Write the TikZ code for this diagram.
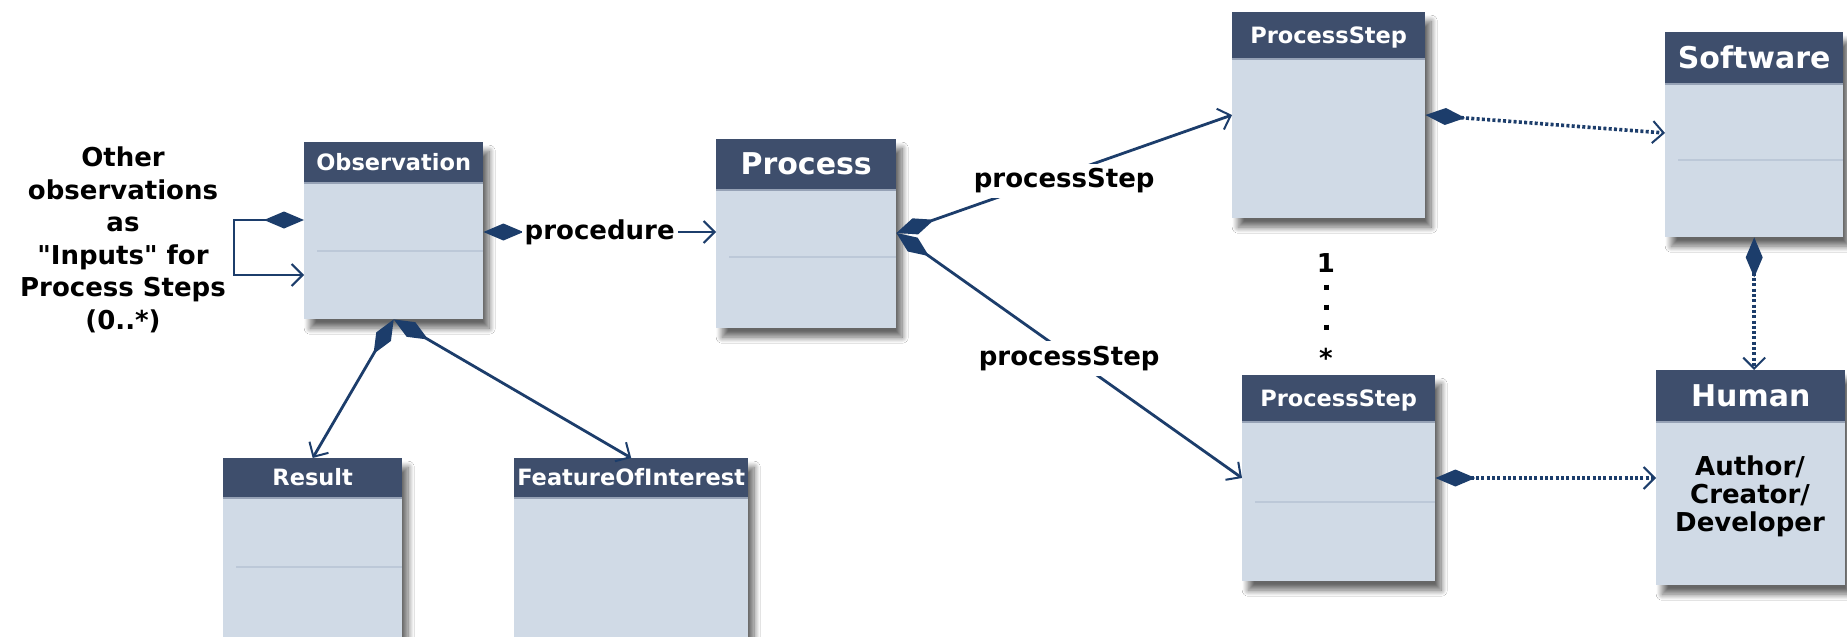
\documentclass[tikz,border=0pt]{standalone}
\usepackage{fontspec}
\setmainfont{DejaVu Sans}
\usetikzlibrary{arrows.meta,calc,shadows.blur}

\definecolor{hdr}{RGB}{62,78,108}
\definecolor{classbody}{RGB}{208,218,230}
\definecolor{sepline}{RGB}{188,200,216}
\definecolor{hdrline}{RGB}{150,162,182}
\definecolor{link}{RGB}{28,61,107}

% straight double quote, taken directly from the font
\newcommand{\dquote}{\XeTeXglyph\XeTeXglyphindex "quotedbl"\relax}

\tikzset{
  classbox/.style={rectangle, fill=classbody, inner sep=0pt, anchor=north west,
    blur shadow={shadow xshift=6pt, shadow yshift=-9pt, shadow blur radius=6pt,
      shadow blur steps=12, shadow opacity=60}},
  smalltitle/.style={text=white, inner sep=0pt, text height=16.4pt, text depth=0pt,
    font=\bfseries\fontsize{22.5}{24}\selectfont},
  bigtitle/.style={text=white, inner sep=0pt, text height=21.9pt, text depth=0pt,
    font=\bfseries\fontsize{30}{32}\selectfont},
  lbl/.style={font=\bfseries\fontsize{26}{32.5}\selectfont, text=black, align=center},
  onlink/.style={lbl, fill=white, inner xsep=3pt, inner ysep=5pt},
  diamondtip/.tip={Diamond[length=40pt,width=17pt]},
  barbtip/.tip={Straight Barb[length=11pt,width=22pt,line width=2pt]},
  assoc/.style={draw=link, line width=2.8pt, diamondtip-barbtip},
  dottedassoc/.style={draw=link, line width=3.6pt, dash pattern=on 3pt off 2.3pt,
    diamondtip-barbtip},
}

% #1 name, #2 x, #3 y, #4 width, #5 height, #6 header height, #7 title style, #8 title
\newcommand{\umlclass}[8]{%
  \node[classbox, minimum width=#4pt, minimum height=#5pt] (#1) at (#2,#3) {};
  \fill[hdr] (#1.north west) rectangle ($(#1.north east)+(0,#6)$);
  \draw[hdrline, line width=1.5pt] ($(#1.north west)+(0,#6+0.75)$) -- ($(#1.north east)+(0,#6+0.75)$);
  \node[#7] (#1-title) at ($(#1.north)+(0,#6/2)$) {#8};
}
% compartment separator: #1 name, #2 offset from top
\newcommand{\compsep}[2]{%
  \draw[sepline, line width=1.2pt] ($(#1.north west)+(13,#2)$) -- ($(#1.north east)+(0,#2)$);
}

\begin{document}
\begin{tikzpicture}[x=1pt,y=-1pt]
  \fill[white] (0,0) rectangle (1847,637);
  \clip (0,0) rectangle (1847,637);

  % classes
  \umlclass{obs}{304}{142}{179}{177}{40}{smalltitle}{Observation}
  \compsep{obs}{109}
  \umlclass{proc}{716}{139}{180}{189}{50}{bigtitle}{Process}
  \compsep{proc}{118}
  \umlclass{res}{223}{458}{179}{182}{39}{smalltitle}{Result}
  \compsep{res}{109}
  \umlclass{foi}{514}{458}{234}{182}{39}{smalltitle}{FeatureOfInterest}
  \umlclass{psa}{1232}{12}{193}{206}{46}{smalltitle}{ProcessStep}
  \umlclass{psb}{1242}{375}{193}{206}{46}{smalltitle}{ProcessStep}
  \compsep{psb}{127}
  \umlclass{sw}{1665}{32}{178}{205}{51}{bigtitle}{Software}
  \compsep{sw}{128}
  \umlclass{hum}{1656}{370}{189}{215}{51}{bigtitle}{Human}

  \node[lbl, font=\bfseries\fontsize{26}{28}\selectfont] (humtext) at (1750,496)
    {Author/\\Creator/\\Developer};

  % note on observations used as inputs
  \node[lbl] (inputs) at (123,240)
    {Other\\observations\\as\\\dquote Inputs\dquote{} for\\Process Steps\\(0..*)};

  % self association of Observation
  \draw[assoc] ($(obs.north west)+(0,78)$) -- ++(-70,0) |- ($(obs.north west)+(0,133)$);

  % Observation -> Process
  \draw[assoc] ($(obs.north east)+(0,90)$) -- ($(proc.north west)+(0,93)$)
    node[onlink, midway] (proclbl) {procedure};

  % Observation -> Result / FeatureOfInterest
  \draw[assoc] (obs.south) -- (res.north);
  \draw[assoc] (obs.south) -- (foi.north);

  % Process -> ProcessSteps
  \draw[assoc] ($(proc.north east)+(0,94)$) -- ($(psa.north west)+(0,103)$)
    node[onlink, midway, yshift=-7pt] (stepa) {processStep};
  \draw[assoc] ($(proc.north east)+(0,94)$) -- ($(psb.north west)+(0,103)$)
    node[onlink, midway, yshift=-3pt] (stepb) {processStep};

  % ProcessStep -> Software / Human, Software -> Human
  \draw[dottedassoc] ($(psa.north east)+(0,103)$) -- ($(sw.north west)+(0,101)$);
  \draw[dottedassoc] ($(psb.north east)+(0,103)$) -- ($(hum.north west)+(0,108)$);
  \draw[dottedassoc] (sw.south) -- (sw.south |- hum.north);

  % multiplicity between the process steps
  \node[lbl] (multone) at (1326,263) {1};
  \node[lbl] (multmany) at (1326,358) {*};
  \coordinate (dotstop) at (1326,284.5);
  \coordinate (dotsbot) at (1326,330);
  \draw[black, line width=5pt, dash pattern=on 5pt off 15pt] (dotstop) -- (dotsbot);
\end{tikzpicture}
\end{document}
